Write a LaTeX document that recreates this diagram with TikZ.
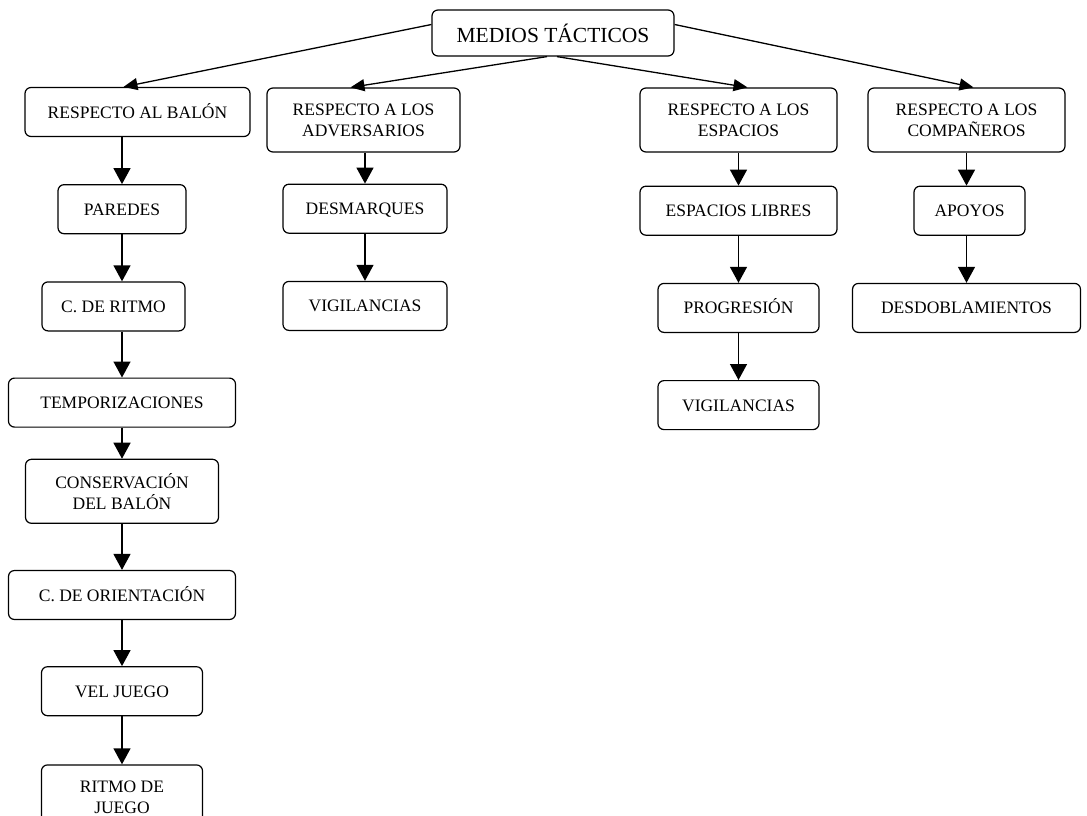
\documentclass[tikz,border=0pt]{standalone}
\usepackage{fontspec}
\setmainfont{Liberation Serif}
\usetikzlibrary{arrows.meta, positioning}

\begin{document}
\begin{tikzpicture}[
  x=1pt, y=-1pt,
  line width=1.2pt,
  tall/.style = {draw, rounded corners=6pt, align=center, inner sep=3pt,
                 minimum height=64pt, font=\fontsize{17.5}{21}\selectfont},
  box/.style  = {tall, minimum height=49pt, text height=12pt, text depth=0pt},
  head/.style = {draw, rounded corners=6pt, inner sep=3pt, minimum width=242pt,
                 minimum height=46pt, font=\fontsize{21.5}{24}\selectfont},
  down/.style = {-{Triangle[width=17pt,length=16pt]}, line width=1.4pt},
  fan/.style  = {-{Triangle[width=12pt,length=14pt]}, line width=1.3pt},
]
  \useasboundingbox (0,0) rectangle (1087,815);

  % top level
  \node[head]                          (root)  at (553,33)   {MEDIOS TÁCTICOS};
  \node[box,  minimum width=225pt]     (balon) at (137.5,112) {RESPECTO AL BALÓN};
  \node[tall, minimum width=193pt]     (adv)   at (363.5,120) {RESPECTO A LOS\\ADVERSARIOS};
  \node[tall, minimum width=197pt]     (esp)   at (738.5,120) {RESPECTO A LOS\\ESPACIOS};
  \node[tall, minimum width=197pt]     (comp)  at (966.5,120) {RESPECTO A LOS\\COMPAÑEROS};

  % ball column
  \node[box, below=47pt of balon, xshift=-15.5pt, minimum width=128pt] (paredes) {PAREDES};
  \node[box, below=47pt of paredes, xshift=-8.5pt, minimum width=143pt] (ritmo)  {C. DE RITMO};
  \node[box, below=46pt of ritmo, xshift=8.5pt, minimum width=227pt]   (tempo)   {TEMPORIZACIONES};
  \node[tall, below=31pt of tempo, minimum width=193pt]                (conserv) {CONSERVACIÓN\\DEL BALÓN};
  \node[box, below=46pt of conserv, minimum width=227pt]               (orient)  {C. DE ORIENTACIÓN};
  \node[box, below=46pt of orient, minimum width=161pt]                (vel)     {VEL JUEGO};
  \node[tall, below=48pt of vel, minimum width=161pt]                  (juego)   {RITMO DE\\JUEGO};

  % opponents column
  \node[box, below=31pt of adv, xshift=1.5pt, minimum width=164pt] (desmarq) {DESMARQUES};
  \node[box, below=47pt of desmarq, minimum width=164pt]           (vigadv)  {VIGILANCIAS};

  % spaces column
  \node[box, below=33pt of esp, minimum width=197pt]     (libres) {ESPACIOS LIBRES};
  \node[box, below=47pt of libres, minimum width=161pt]  (progr)  {PROGRESIÓN};
  \node[box, below=47pt of progr, minimum width=161pt]   (vigesp) {VIGILANCIAS};

  % team-mates column
  \node[box, below=33pt of comp, xshift=3pt, minimum width=111pt]  (apoyos) {APOYOS};
  \node[box, below=47pt of apoyos, xshift=-3pt, minimum width=228pt] (desdobl) {DESDOBLAMIENTOS};

  % fan out from the root
  \draw[fan] (root.176)                 -- ([xshift=-14pt]balon.north);
  \draw[fan] ([xshift=-6pt]root.south)  -- ([xshift=-13pt]adv.north);
  \draw[fan] ([xshift=4pt]root.south)   -- ([xshift=9pt]esp.north);
  \draw[fan] (root.4)                   -- ([xshift=7pt]comp.north);

  % chains
  \draw[down] (paredes |- balon.south) -- (paredes);
  \draw[down] (paredes) -- (paredes |- ritmo.north);
  \draw[down] (ritmo.south -| tempo) -- (tempo);
  \draw[down] (tempo)   -- (conserv);
  \draw[down] (conserv) -- (orient);
  \draw[down] (orient)  -- (vel);
  \draw[down] (vel)     -- (juego);

  \draw[down] (desmarq |- adv.south) -- (desmarq);
  \draw[down] (desmarq) -- (vigadv);

  \draw[down] (esp)    -- (libres);
  \draw[down] (libres) -- (progr);
  \draw[down] (progr)  -- (vigesp);

  \draw[down] (desdobl |- comp.south) -- (desdobl |- apoyos.north);
  \draw[down] (desdobl |- apoyos.south) -- (desdobl);
\end{tikzpicture}
\end{document}
